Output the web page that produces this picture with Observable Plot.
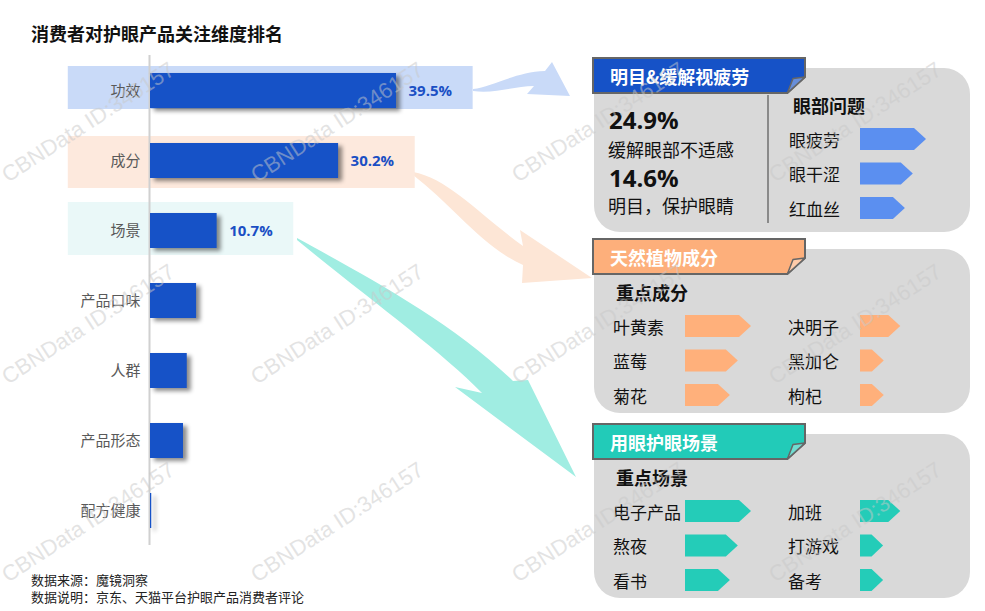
<!DOCTYPE html>
<html>
<head>
<meta charset="utf-8">
<script src="https://cdn.jsdelivr.net/npm/d3@7"></script>
<script src="https://cdn.jsdelivr.net/npm/@observablehq/plot@0.6"></script>
<style>
  html, body { margin: 0; padding: 0; background: #fff; }
  #page { position: relative; width: 985px; height: 611px; overflow: hidden; background: #fff;
          font-family: "Noto Sans CJK SC", "Noto Sans", sans-serif; }
  #title { position: absolute; left: 31px; top: 23px; font-size: 18px; font-weight: bold; line-height: 20px; color: #111; z-index: 5; }
  #note { position: absolute; left: 31px; top: 572px; font-size: 13px; line-height: 16.5px; color: #222; z-index: 5; }
  #deco, #chart, #panels { position: absolute; left: 0; top: 0; }
  #deco { z-index: 1; } #chart { z-index: 2; } #panels { z-index: 3; }
</style>
</head>
<body>
<div id="page">
  <div id="title"></div>
  <svg id="deco" width="985" height="611"></svg>
  <div id="chart"></div>
  <svg id="panels" width="985" height="611"></svg>
  <div id="note"></div>
</div>
<script>
// ---------------- data ----------------
const titleText = "消费者对护眼产品关注维度排名";
const noteLines = ["数据来源：魔镜洞察", "数据说明：京东、天猫平台护眼产品消费者评论"];

const categories = ["功效", "成分", "场景", "产品口味", "人群", "产品形态", "配方健康"];
const shares = [39.5, 30.2, 10.7, 7.4, 5.9, 5.3, 0.2];
const highlighted = ["功效", "成分", "场景"];
const highlightColors = ["#c9daf8", "#fde9dd", "#eaf8f8"];

const panelTitles = ["明目&缓解视疲劳", "天然植物成分", "用眼护眼场景"];
const panelColors = ["#1652c7", "#fdaf7b", "#22cbb8"];
const pentColors = ["#5b8ff0", "#ffb07b", "#24ccb8"];

const effectShares = [24.9, 14.6];
const effectLabels = ["缓解眼部不适感", "明目，保护眼睛"];
const problemHeading = "眼部问题";
const problems = ["眼疲劳", "眼干涩", "红血丝"];
const problemScores = [100, 80, 68];

const ingredientHeading = "重点成分";
const ingredients = ["叶黄素", "蓝莓", "菊花", "决明子", "黑加仑", "枸杞"];
const ingredientScores = [100, 80, 68, 61, 36, 36];

const sceneHeading = "重点场景";
const scenes = ["电子产品", "熬夜", "看书", "加班", "打游戏", "备考"];
const sceneScores = [100, 80, 68, 61, 35, 35];

const watermark = "CBNData ID:346157";

// ---------------- text blocks ----------------
document.getElementById("title").textContent = titleText;
document.getElementById("note").innerHTML = noteLines.map(s => `<div>${s}</div>`).join("");

// ---------------- bar chart (Plot) ----------------
const rows = categories.map((c, i) => ({cat: c, value: shares[i]}));
const bands = highlighted.map((c, i) => ({cat: c, value: shares[categories.indexOf(c)], color: highlightColors[i]}));
// per-band vertical insets (style)
const bandInsets = [[-7, -1], [-7, -10], [-11, -7]];

const chart = Plot.plot({
  width: 600,
  height: 611,
  marginTop: 55,
  marginBottom: 66,
  marginLeft: 150,
  marginRight: 14,
  style: {background: "transparent", fontFamily: "'Noto Sans CJK SC', sans-serif"},
  x: {domain: [0, 70], axis: null},
  y: {domain: categories, paddingInner: 0.5, paddingOuter: 0.25, axis: null},
  marks: [
    ...bands.map((b, i) => Plot.barX([b], {x1: () => -13.2, x2: d => d.value + 12.3, y: "cat", fill: "color",
      insetTop: bandInsets[i][0], insetBottom: bandInsets[i][1]})),
    Plot.ruleX([0], {stroke: "#d0d0d0", strokeWidth: 2, dx: -1}),
    Plot.barX(rows, {x: "value", y: "cat", fill: "#1652c7"}),
    Plot.text(bands, {x: "value", y: "cat", text: d => d.value.toFixed(1) + "%", dx: 12, textAnchor: "start",
      fill: "#1a4fc4", fontWeight: "bold", fontSize: 15, fontFamily: "'Open Sans', sans-serif"}),
    Plot.axisY({tickSize: 0, tickPadding: 10, fontSize: 15, color: "#595959", label: null})
  ]
});
document.getElementById("chart").appendChild(chart);
const barGroups = chart.querySelectorAll('g[aria-label="bar"]');
const mainBars = barGroups[barGroups.length - 1];
if (mainBars) mainBars.style.filter = "drop-shadow(4px 3px 2px rgba(0,0,0,0.45))";

// ---------------- decorative curved arrows ----------------
const deco = d3.select("#deco");
const arrows = [
  {fill: "#c9daf8", d: "M473,89 C492,87 515,72 545,71 L552,62 L570,96 L527,94 L534,86 C515,86 495,94 473,91 Z"},
  {fill: "#fde6d6", d: "M413,172 C448,178 480,215 523,246 L520,230 L592,278 L522,283 L523,265 C484,248 452,205 413,175 Z"},
  {fill: "#a0ede2", d: "M297,238 C362,274 450,320 513,381 L528,380 L576,477 L455,387 L482,393 C440,350 370,300 297,240 Z"}
];
deco.selectAll("path").data(arrows).join("path").attr("d", d => d.d).attr("fill", d => d.fill);

// ---------------- right panels ----------------
const svg = d3.select("#panels");
const font = "'Noto Sans CJK SC', sans-serif";
const boxX = 594, boxW = 376, boxH = 164, headW = 212, headH = 35, cut = 16;
const panelTops = [68, 249, 434];
const pentScale = d3.scaleLinear([0, 100], [0, 66]);

function pentagon(g, x, y, w, color) {
  const h = 22, p = Math.min(12, w / 2);
  g.append("path")
    .attr("d", `M${x},${y - h / 2} H${x + w - p} L${x + w},${y} L${x + w - p},${y + h / 2} H${x} Z`)
    .attr("fill", color);
}
function label(g, x, y, t, size, weight) {
  g.append("text").attr("x", x).attr("y", y).attr("dominant-baseline", "central")
    .attr("font-family", font).attr("font-size", size).attr("font-weight", weight || "normal")
    .attr("fill", "#111").text(t);
}

panelTops.forEach((top, k) => {
  const g = svg.append("g");
  g.append("rect").attr("x", boxX).attr("y", top).attr("width", boxW).attr("height", boxH)
    .attr("rx", 26).attr("fill", "#d9d9d9");
  const x0 = boxX - 1, y0 = top - 10, x1 = x0 + headW, y1 = y0 + headH;
  g.append("path")
    .attr("d", `M${x0},${y0} H${x1} V${y1 - cut} L${x1 - cut * 1.1},${y1} H${x0} Z`)
    .attr("fill", panelColors[k]).attr("stroke", "#666").attr("stroke-width", 2);
  g.append("path")
    .attr("d", `M${x1 - cut * 1.1},${y1} L${x1},${y1 - cut} L${x1 - cut * 0.75},${y1 - cut * 0.9} Z`)
    .attr("fill", d3.interpolateRgb(panelColors[k], "#fff")(0.35)).attr("stroke", "#666").attr("stroke-width", 1.5)
    .attr("stroke-linejoin", "round");
  g.append("text").attr("x", x0 + 17).attr("y", y0 + headH / 2).attr("dominant-baseline", "central")
    .attr("font-family", font).attr("font-size", 18).attr("font-weight", "bold").attr("fill", "#fff")
    .text(panelTitles[k]);

  if (k === 0) {
    effectShares.forEach((v, i) => {
      g.append("text").attr("x", 609).attr("y", top + 61 + i * 58)
        .attr("font-family", "'Open Sans', sans-serif").attr("font-size", 24).attr("font-weight", "bold")
        .attr("fill", "#111").text(v.toFixed(1) + "%");
      label(g, 608, top + 81 + i * 56, effectLabels[i], 18);
    });
    g.append("line").attr("x1", 768).attr("x2", 768).attr("y1", top + 27).attr("y2", top + 155)
      .attr("stroke", "#555").attr("stroke-width", 1.2);
    label(g, 793, top + 37, problemHeading, 18, "bold");
    problems.forEach((p, i) => {
      const cy = top + 71 + i * 34.5;
      label(g, 789, cy, p, 17);
      pentagon(g, 860, cy, pentScale(problemScores[i]), pentColors[0]);
    });
  } else {
    const heading = k === 1 ? ingredientHeading : sceneHeading;
    const items = k === 1 ? ingredients : scenes;
    const scores = k === 1 ? ingredientScores : sceneScores;
    label(g, 616, top + 43, heading, 18, "bold");
    items.forEach((t, i) => {
      const col = Math.floor(i / 3), r = i % 3;
      const cy = top + 77 + r * 34.5;
      label(g, col ? 788 : 613, cy, t, 17);
      pentagon(g, col ? 860 : 685, cy, pentScale(scores[i]), pentColors[k]);
    });
  }
});

// ---------------- watermark ----------------
const wmCentersX = [88, 337, 598, 855], wmCentersY = [122, 324, 522];
const wm = svg.append("g").attr("pointer-events", "none");
wmCentersY.forEach(cy => wmCentersX.forEach(cx => {
  wm.append("text").attr("transform", `translate(${cx},${cy}) rotate(-33)`)
    .attr("text-anchor", "middle").attr("dominant-baseline", "central")
    .attr("font-family", "'Liberation Sans', Arial, sans-serif").attr("font-size", 22)
    .attr("fill", "#c8c8c8").attr("fill-opacity", 0.5).text(watermark);
}));
</script>
</body>
</html>
